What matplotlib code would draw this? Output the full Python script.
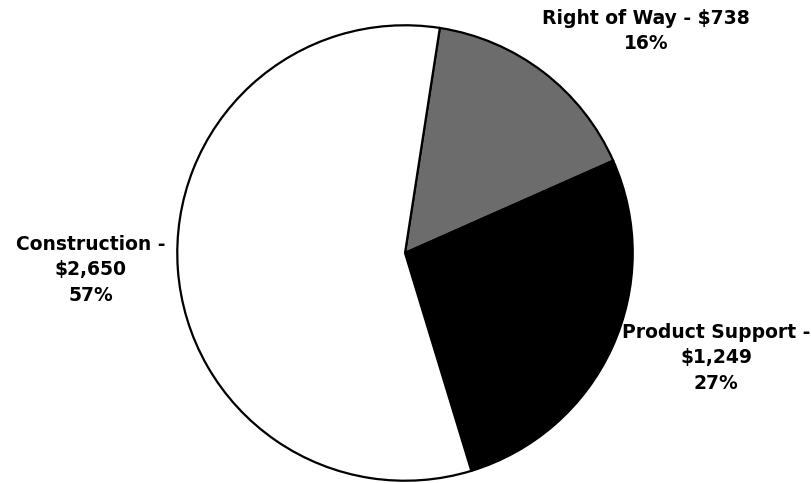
import matplotlib.pyplot as plt

labels = ["Right of Way", "Product Support", "Construction"]
values = [738, 1249, 2650]
colors = ["#6c6c6c", "#000000", "#ffffff"]

total = sum(values)
texts = []
for name, v in zip(labels, values):
    pct = round(v / total * 100)
    texts.append("%s - $%s\n%d%%" % (name, format(v, ","), pct))
# line breaks as in the original chart
texts[1] = texts[1].replace(" - ", " -\n")
texts[2] = texts[2].replace(" - ", " -\n")

W, H = 811, 483
fig = plt.figure(figsize=(W / 100, H / 100), dpi=100)
ax = fig.add_axes([175 / W, 0 / H, 460 / W, 460 / H])

ax.pie(values, colors=colors, startangle=81.2, counterclock=False,
       wedgeprops=dict(edgecolor="black", linewidth=1.6))
ax.set_xlim(-1.01, 1.01)
ax.set_ylim(-1.01, 1.01)
ax.set_aspect("equal")
ax.axis("off")

font = dict(fontsize=13.5, fontweight="bold", ha="center", va="center",
            linespacing=1.42, family="DejaVu Sans")
fig.text(646 / W, 1 - 31 / H, texts[0], **font)
fig.text(716 / W, 1 - 358 / H, texts[1], **font)
fig.text(91 / W, 1 - 270 / H, texts[2], **font)

fig.savefig("out.png", dpi=100, facecolor="white")
